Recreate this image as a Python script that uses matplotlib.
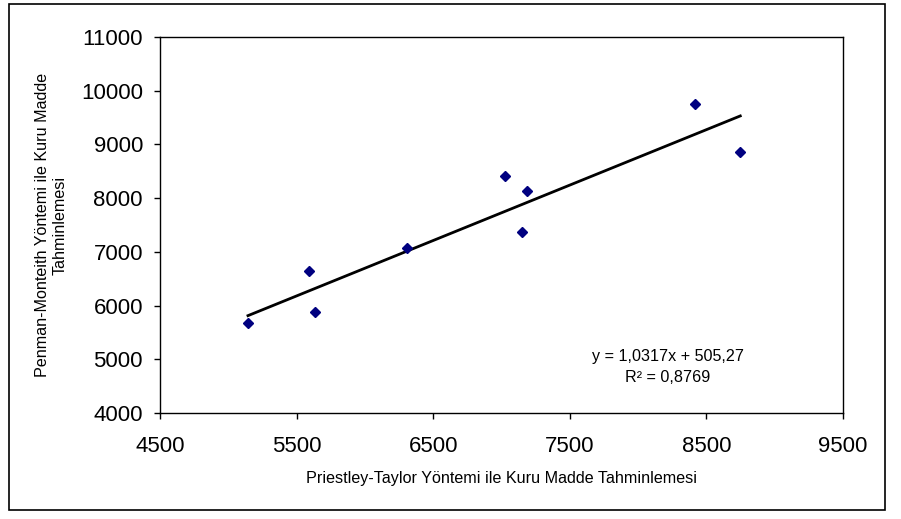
import numpy as np
import matplotlib.pyplot as plt
from matplotlib.patches import Rectangle

plt.rcParams['font.family'] = ['Liberation Sans', 'DejaVu Sans']

# Data
pt_values = [5144, 5593, 5637, 6310, 7026, 7185, 7148, 8417, 8748]
pm_values = [5675, 6649, 5886, 7066, 8406, 8133, 7363, 9759, 8853]

# Trendline coefficients shown on the chart
slope = 1.0317
intercept = 505.27

x_ticks = [4500, 5500, 6500, 7500, 8500, 9500]
y_ticks = [4000, 5000, 6000, 7000, 8000, 9000, 10000, 11000]

W, H = 901, 519
fig = plt.figure(figsize=(W / 100, H / 100), dpi=100)

# axes placement in pixels
left, right, top, bottom = 160, 843, 37, 413
ax = fig.add_axes([left / W, 1 - bottom / H, (right - left) / W, (bottom - top) / H])

# outer chart border
fig.patches.append(Rectangle((9 / W, 1 - 510 / H), (885 - 9) / W, (510 - 4) / H,
                             transform=fig.transFigure, fill=False,
                             edgecolor='black', linewidth=1.2))

x_fit = np.array([min(pt_values), max(pt_values)])
ax.plot(x_fit, slope * x_fit + intercept, color='black', linewidth=2)
ax.plot(pt_values, pm_values, linestyle='none', marker='D', markersize=5.5,
        color='#000080', markeredgecolor='#000080')

ax.set_xlim(4500, 9500)
ax.set_ylim(4000, 11000)
ax.set_xticks(x_ticks)
ax.set_yticks(y_ticks)
ax.tick_params(direction='out', length=4.3, width=1, labelsize=16)
ax.tick_params(axis='x', pad=12)
ax.tick_params(axis='y', pad=8)
for s in ax.spines.values():
    s.set_linewidth(1)

ax.set_xlabel('Priestley-Taylor Yöntemi ile Kuru Madde Tahminlemesi', fontsize=11.6)
ax.xaxis.set_label_coords(0.5, -(478 - bottom) / (bottom - top), transform=ax.transAxes)
ax.xaxis.label.set_va('center')
ax.set_ylabel('Penman-Monteith Yöntemi ile Kuru Madde\nTahminlemesi', fontsize=11.6)
ax.yaxis.set_label_coords(-(160 - 51) / (right - left), 0.5)
ax.yaxis.label.set_va('center')

ax.annotate('y = 1,0317x + 505,27', xy=(668 / W, 1 - 356 / H), xycoords='figure fraction',
            ha='center', va='center', fontsize=11.6)
ax.annotate('R² = 0,8769', xy=(668 / W, 1 - 378 / H), xycoords='figure fraction',
            ha='center', va='center', fontsize=11.6)

fig.savefig('out.png', dpi=100)
